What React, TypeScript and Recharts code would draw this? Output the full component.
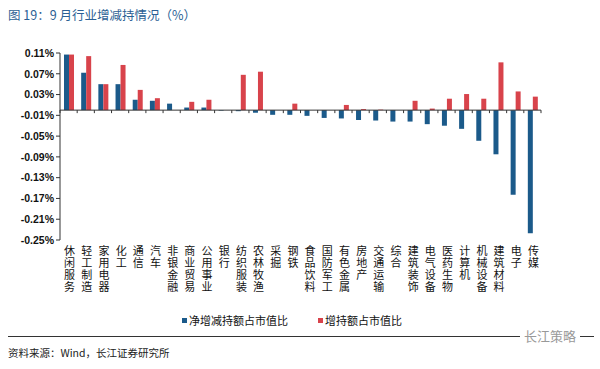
import { BarChart, Bar, XAxis, YAxis, ReferenceLine } from 'recharts';

const industries = [
  '休闲服务', '轻工制造', '家用电器', '化工', '通信', '汽车', '非银金融',
  '商业贸易', '公用事业', '银行', '纺织服装', '农林牧渔', '采掘', '钢铁',
  '食品饮料', '国防军工', '有色金属', '房地产', '交通运输', '综合', '建筑装饰',
  '电气设备', '医药生物', '计算机', '机械设备', '建筑材料', '电子', '传媒',
];

// 净增减持额占市值比 (%)
const netChange = [
  0.107, 0.072, 0.05, 0.05, 0.02, 0.018, 0.0125, 0.005, 0.005, -0.001,
  -0.002, -0.005, -0.009, -0.009, -0.011, -0.015, -0.016, -0.019, -0.02, -0.022,
  -0.022, -0.027, -0.03, -0.036, -0.059, -0.085, -0.163, -0.237,
];

// 增持额占市值比 (%)
const increase = [
  0.107, 0.104, 0.05, 0.087, 0.039, 0.023, 0, 0.016, 0.02, 0,
  0.068, 0.074, 0, 0.0125, 0, 0, 0.01, 0.002, 0.001, 0,
  0.018, 0.003, 0.022, 0.031, 0.022, 0.092, 0.036, 0.026,
];

const yTicks = [0.11, 0.07, 0.03, -0.01, -0.05, -0.09, -0.13, -0.17, -0.21, -0.25];

const data = industries.map((name, i) => ({ name, net: netChange[i], inc: increase[i] }));

const W = 600;
const H = 369;
const M = { top: 53, right: 59, left: 0, bottom: 0 };
const Y_AXIS_W = 60;
const X_AXIS_H = 129;
const BLUE = '#1b5a8a';
const RED = '#d8434b';
const CJK = '"Noto Sans CJK SC", sans-serif';

const plotH = H - M.top - M.bottom - X_AXIS_H;
const yMax = yTicks[0];
const yMin = yTicks[yTicks.length - 1];
const zeroY = M.top + (plotH * yMax) / (yMax - yMin);
const band = (W - M.right - M.left - Y_AXIS_W) / industries.length;

function CategoryTick(props: any) {
  const { x, y, payload, index } = props;
  const last = index === industries.length - 1;
  return (
    <g>
      <line x1={x - band / 2} x2={x - band / 2} y1={zeroY} y2={zeroY + 3} stroke="#333" />
      {last && <line x1={x + band / 2} x2={x + band / 2} y1={zeroY} y2={zeroY + 3} stroke="#333" />}
      <text
        x={x + 1}
        y={y + 5}
        writingMode="vertical-rl"
        letterSpacing={1}
        fontSize={11}
        fontFamily={CJK}
        fill="#111"
      >
        {payload.value}
      </text>
    </g>
  );
}

const fmtPct = (v: number) => `${v.toFixed(2)}%`;

export default function App() {
  return (
    <div style={{ position: 'relative', width: W, height: H, background: '#fff', fontFamily: CJK }}>
      <style>{'body{margin:0}'}</style>
      <div style={{ position: 'absolute', left: 8, top: 5, fontSize: 12.5, color: '#2b5f94' }}>
        图 19：9 月行业增减持情况（%）
      </div>
      <BarChart width={W} height={H} data={data} margin={M} barGap={0} barSize={5}>
        <YAxis
          width={Y_AXIS_W}
          domain={[yMin, yMax]}
          ticks={yTicks}
          interval={0}
          tickFormatter={fmtPct}
          tickSize={4}
          tickLine={{ stroke: '#333' }}
          axisLine={{ stroke: '#333' }}
          tick={{ fontSize: 10.5, fontFamily: '"Liberation Sans", Arial', fontWeight: 'bold', fill: '#111' }}
        />
        <XAxis
          dataKey="name"
          height={X_AXIS_H}
          interval={0}
          axisLine={false}
          tickLine={false}
          tickSize={0}
          tickMargin={0}
          tick={<CategoryTick />}
        />
        <Bar dataKey="net" fill={BLUE} isAnimationActive={false} />
        <Bar dataKey="inc" fill={RED} isAnimationActive={false} />
        <ReferenceLine y={0} stroke="#333" />
      </BarChart>
      <div
        style={{
          position: 'absolute',
          top: 312,
          left: 182,
          display: 'flex',
          gap: 30,
          fontSize: 11,
          color: '#111',
        }}
      >
        <span style={{ display: 'flex', alignItems: 'center' }}>
          <span style={{ width: 5, height: 5, background: BLUE, marginRight: 2 }} />
          净增减持额占市值比
        </span>
        <span style={{ display: 'flex', alignItems: 'center' }}>
          <span style={{ width: 5, height: 5, background: RED, marginRight: 2 }} />
          增持额占市值比
        </span>
      </div>
      <div style={{ position: 'absolute', top: 336, left: 8, width: 586, borderTop: '1px solid #333' }} />
      <div
        style={{
          position: 'absolute',
          top: 326,
          left: 520,
          padding: '0 4px',
          background: '#fff',
          fontSize: 13,
          color: '#999',
        }}
      >
        长江策略
      </div>
      <div style={{ position: 'absolute', top: 345, left: 8, fontSize: 10.5, color: '#222' }}>
        资料来源：Wind，长江证券研究所
      </div>
    </div>
  );
}
